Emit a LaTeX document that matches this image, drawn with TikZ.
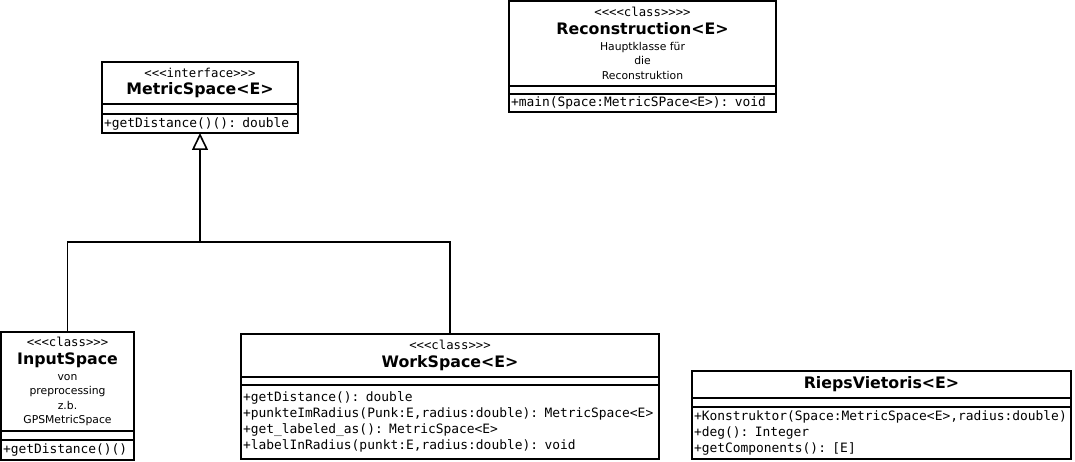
\documentclass[tikz,border=0pt]{standalone}
\usepackage{fontspec}
\setmainfont{DejaVu Sans}
\setmonofont{DejaVu Sans Mono}
\usepackage{tikz}
\usetikzlibrary{arrows.meta, positioning}
\newcommand{\stereo}[1]{{\fontsize{12.3}{14.5}\ttfamily #1}}
\newcommand{\cname}[1]{{\fontsize{15.8}{14.5}\selectfont\bfseries #1}}

\begin{document}
\begin{tikzpicture}[x=1pt, y=-1pt,
    every node/.style={line width=1.6pt, inner sep=0pt, outer sep=0pt},
    namebox/.style={rectangle, draw, anchor=north west, align=center, font=\fontsize{10.8}{14.5}\selectfont},
    attrbox/.style={rectangle, draw},
    opsbox/.style={rectangle, draw, align=left, inner xsep=2pt, font=\fontsize{12.9}{16}\ttfamily},
    inherit/.style={-{Triangle[open, length=17pt, width=16pt]}, line width=1.6pt}
]
\useasboundingbox (0,0) rectangle (1075,462);

\node[namebox, minimum width=196pt, minimum height=42pt] (metric) at (102,62) {\stereo{<<<interface>>>}\\[3pt]\cname{MetricSpace<E>}};
\node[attrbox, minimum width=196pt, minimum height=10pt, below=0pt of metric] (metricattr) {};
\node[opsbox, text width=192pt, minimum height=19pt, below=0pt of metricattr] (metricops) {+getDistance()(): double};

\node[namebox, minimum width=267pt, minimum height=85pt] (recon) at (509,1) {\stereo{<<<<class>>>>}\\[3pt]\cname{Reconstruction<E>}\\[1.5pt]Hauptklasse für\\die\\Reconstruktion};
\node[attrbox, minimum width=267pt, minimum height=8pt, below=0pt of recon] (reconattr) {};
\node[opsbox, text width=263pt, minimum height=18pt, below=0pt of reconattr] (reconops) {+main(Space:MetricSPace<E>): void};

\node[namebox, minimum width=133pt, minimum height=99pt] (input) at (1,332) {\stereo{<<<class>>>}\\[3pt]\cname{InputSpace}\\[1.5pt]von\\preprocessing\\z.b.\\GPSMetricSpace};
\node[attrbox, minimum width=133pt, minimum height=9pt, below=0pt of input] (inputattr) {};
\node[opsbox, text width=129pt, minimum height=20pt, below=0pt of inputattr] (inputops) {+getDistance()()};

\node[namebox, minimum width=418pt, minimum height=43pt] (work) at (241,334) {\stereo{<<<class>>>}\\[3pt]\cname{WorkSpace<E>}};
\node[attrbox, minimum width=418pt, minimum height=8pt, below=0pt of work] (workattr) {};
\node[opsbox, text width=414pt, minimum height=74pt, below=0pt of workattr] (workops) {+getDistance(): double\\+punkteImRadius(Punk:E,radius:double): MetricSpace<E>\\+get\_labeled\_as(): MetricSpace<E>\\+labelInRadius(punkt:E,radius:double): void};

\node[namebox, minimum width=379pt, minimum height=27pt] (rieps) at (692,371) {\cname{RiepsVietoris<E>}};
\node[attrbox, minimum width=379pt, minimum height=9pt, below=0pt of rieps] (riepsattr) {};
\node[opsbox, text width=375pt, minimum height=52pt, below=0pt of riepsattr] (riepsops) {+Konstruktor(Space:MetricSpace<E>,radius:double)\\+deg(): Integer\\+getComponents(): [E]};

\coordinate (join) at (200,242);
\draw[inherit] (input.north) |- (join) -- (metricops.south);
\draw[line width=1.6pt] (work.north) |- (join);

\end{tikzpicture}
\end{document}
